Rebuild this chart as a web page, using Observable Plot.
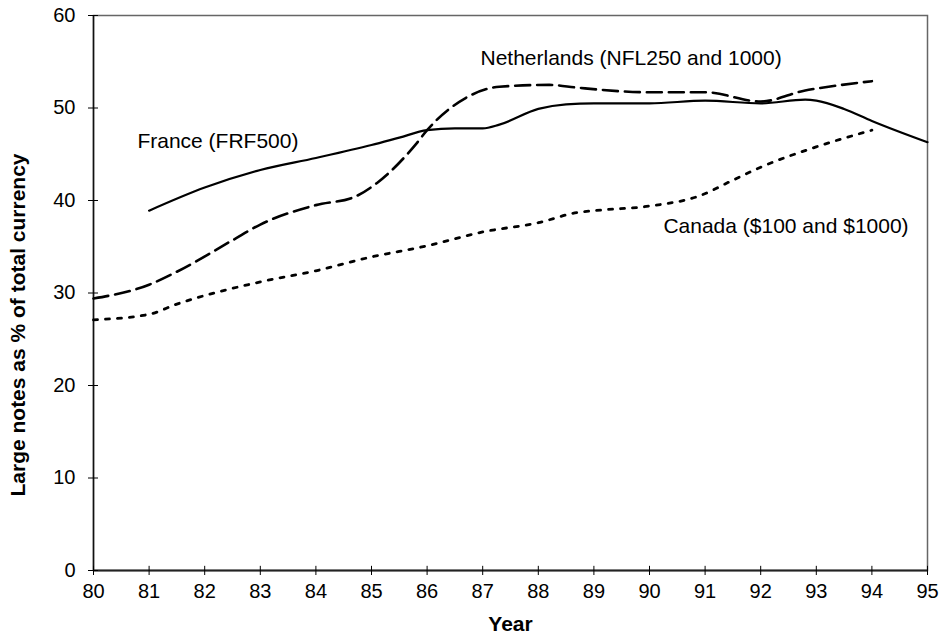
<!DOCTYPE html>
<html>
<head>
<meta charset="utf-8">
<script src="https://cdn.jsdelivr.net/npm/d3@7"></script>
<script src="https://cdn.jsdelivr.net/npm/@observablehq/plot@0.6"></script>
<style>
  body { margin: 0; background: #fff; }
  svg { font-family: "Liberation Sans", Arial, sans-serif; }
</style>
</head>
<body>
<div id="chart"></div>
<script>
const franceYears = [81, 82, 83, 84, 85, 85.5, 86, 86.5, 87, 87.3, 88, 88.5, 89, 90, 91, 92, 92.8, 93, 93.5, 94, 95];
const franceValues = [38.9, 41.4, 43.3, 44.6, 46.0, 46.8, 47.6, 47.8, 47.8, 48.2, 49.9, 50.4, 50.5, 50.5, 50.8, 50.5, 50.9, 50.8, 49.9, 48.6, 46.3];

const nethYears = [80, 81, 81.5, 82.5, 83, 84, 84.7, 85.1, 85.8, 86, 86.7, 87.3, 88.2, 88.7, 90, 91, 92, 92.8, 93, 94];
const nethValues = [29.4, 30.9, 32.3, 35.7, 37.4, 39.5, 40.4, 41.9, 46.1, 47.6, 51.1, 52.3, 52.5, 52.2, 51.7, 51.7, 50.7, 51.9, 52.1, 52.9];

const canadaYears = [80, 81, 81.5, 83, 84, 85, 86, 87, 88, 88.7, 89, 90, 90.9, 91.5, 92, 93, 94];
const canadaValues = [27.1, 27.7, 28.8, 31.2, 32.4, 33.9, 35.1, 36.6, 37.6, 38.7, 38.9, 39.4, 40.5, 42.2, 43.6, 45.8, 47.6];

const xTicks = d3.range(80, 96);
const yTicks = [0, 10, 20, 30, 40, 50, 60];

const seriesLabels = ["France (FRF500)", "Netherlands (NFL250 and 1000)", "Canada ($100 and $1000)"];
const labelYears = [80.79, 86.96, 90.25];
const labelValues = [46.4, 55.35, 37.2];

const xTitle = "Year";
const yTitle = "Large notes as % of total currency";

const france = franceYears.map((x, i) => ({x, y: franceValues[i]}));
const neth = nethYears.map((x, i) => ({x, y: nethValues[i]}));
const canada = canadaYears.map((x, i) => ({x, y: canadaValues[i]}));
const labels = seriesLabels.map((t, i) => ({t, x: labelYears[i], y: labelValues[i]}));

const chart = Plot.plot({
  width: 946,
  height: 635,
  marginLeft: 93,
  marginRight: 19,
  marginTop: 15,
  marginBottom: 65,
  style: {fontFamily: "Liberation Sans, Arial, sans-serif", fontSize: "20px", color: "#000", background: "#fff"},
  x: {domain: [80, 95], label: null},
  y: {domain: [0, 60], label: null},
  marks: [
    Plot.frame({stroke: "#666", strokeWidth: 1.5}),
    Plot.ruleY([0], {stroke: "#222", strokeWidth: 2}),
    Plot.ruleX([80], {stroke: "#111", strokeWidth: 1.5}),
    Plot.axisX({ticks: xTicks, tickFormat: d => String(d), tickSize: 5, tickPadding: 8, fontSize: 20, stroke: "#000", label: null}),
    Plot.ruleX(xTicks, {x: d => d, y1: 0, y2: 0.45, stroke: "#000", strokeWidth: 1}),
    Plot.axisY({ticks: yTicks, tickSize: 5, tickPadding: 13, fontSize: 20, stroke: "#000", label: null}),
    Plot.ruleY(yTicks, {y: d => d, x1: 80, x2: 80.09, stroke: "#000", strokeWidth: 1}),
    Plot.line(canada, {x: "x", y: "y", stroke: "#000", strokeWidth: 2.8, strokeDasharray: "4,8", curve: "monotone-x"}),
    Plot.line(neth, {x: "x", y: "y", stroke: "#000", strokeWidth: 2.6, strokeDasharray: "15,7", curve: "monotone-x"}),
    Plot.line(france, {x: "x", y: "y", stroke: "#000", strokeWidth: 2.2, curve: "monotone-x"}),
    Plot.text(labels, {x: "x", y: "y", text: "t", textAnchor: "start", fontSize: 21, fill: "#000"}),
    Plot.text([xTitle], {frameAnchor: "bottom", dy: 60, fontSize: 21, fontWeight: "bold", fill: "#000"})
  ]
});
// rotated y-axis title
d3.select(chart).append("text")
  .attr("transform", "translate(25,325) rotate(-90)")
  .attr("text-anchor", "middle")
  .attr("font-size", 21)
  .attr("font-weight", "bold")
  .attr("font-family", "Liberation Sans, Arial, sans-serif")
  .attr("fill", "#000")
  .text(yTitle);
document.getElementById("chart").appendChild(chart);
</script>
</body>
</html>
